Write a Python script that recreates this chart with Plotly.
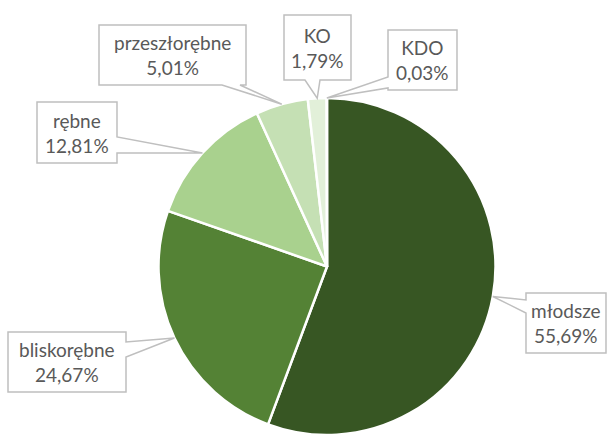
import math
import plotly.graph_objects as go

# ---- data ----
labels = ["młodsze", "bliskorębne", "rębne", "przeszłorębne", "KO", "KDO"]
values = [55.69, 24.67, 12.81, 5.01, 1.79, 0.03]
colors = ["#375623", "#548235", "#A9D18E", "#C5E0B4", "#E2F0D9", "#EEF6E8"]

W, H = 608, 435
CX, CY, R = 327.0, 266.5, 168.5

# callout boxes (pixel coords): x0, y0, x1, y1, side of wedge, base start, base end
boxes = {
    "młodsze":       (526, 293, 606, 353, "left", 300, 313),
    "bliskorębne":   (8, 332, 126, 392, "right", 342, 357),
    "rębne":         (37, 102, 117, 163, "right", 137, 153),
    "przeszłorębne": (99, 25, 246, 85, "bottom", 222, 240),
    "KO":            (284, 15, 351, 80, "bottom", 305, 320),
    "KDO":           (388, 30, 457, 90, "left", 77, 88),
}

def px(x):
    return x / W

def py(y):
    return (H - y) / H

total = sum(values)
fig = go.Figure()
fig.add_trace(go.Pie(
    labels=labels, values=values, sort=False, direction="clockwise", rotation=0,
    marker=dict(colors=colors, line=dict(color="white", width=2.5)),
    textinfo="none", hoverinfo="none", showlegend=False,
    domain=dict(x=[px(CX - R), px(CX + R)], y=[py(CY + R), py(CY - R)]),
))

shapes = []
annotations = []
cum = 0.0
for lab, val in zip(labels, values):
    mid = (cum + val / 2) / total * 2 * math.pi
    cum += val
    tx = CX + R * math.sin(mid)
    ty = CY - R * math.cos(mid)
    x0, y0, x1, y1, side, b0, b1 = boxes[lab]
    pts = [(x0, y0), (x1, y0)]
    if side == "right":
        pts += [(x1, b0), (tx, ty), (x1, b1)]
    pts += [(x1, y1)]
    if side == "bottom":
        pts += [(b1, y1), (tx, ty), (b0, y1)]
    pts += [(x0, y1)]
    if side == "left":
        pts += [(x0, b1), (tx, ty), (x0, b0)]
    path = "M " + " L ".join(f"{px(a):.5f},{py(b):.5f}" for a, b in pts) + " Z"
    shapes.append(dict(type="path", xref="paper", yref="paper", path=path,
                       fillcolor="white", line=dict(color="#BFBFBF", width=1.5)))
    pct = f"{val:.2f}".replace(".", ",") + "%"
    annotations.append(dict(
        x=px((x0 + x1) / 2), y=py((y0 + y1) / 2), xref="paper", yref="paper",
        text=f"{lab}<br>{pct}", showarrow=False, xanchor="center", yanchor="middle",
        font=dict(family="Lato, Carlito, sans-serif", size=19, color="#595959"),
    ))

fig.update_layout(
    width=W, height=H, margin=dict(l=0, r=0, t=0, b=0),
    paper_bgcolor="white", plot_bgcolor="white",
    shapes=shapes, annotations=annotations,
)
fig.write_html("out.html", config={"displayModeBar": False},
               post_script="document.body.style.margin='0';document.body.style.overflow='hidden';")
